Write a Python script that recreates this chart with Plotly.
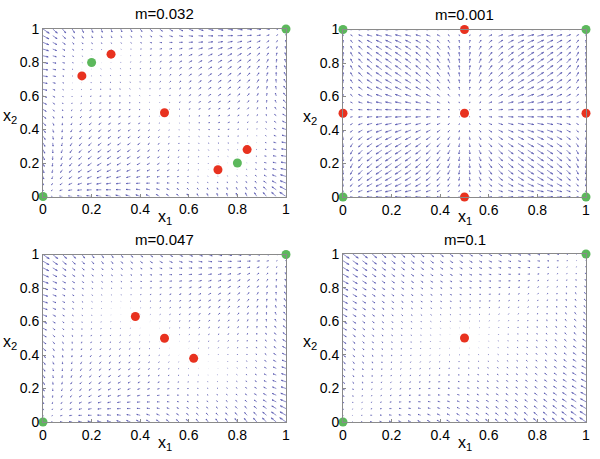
import numpy as np
import plotly.graph_objects as go

# ---- data ----
panel_titles = ["m=0.032", "m=0.001", "m=0.047", "m=0.1"]
m_values = [0.032, 0.001, 0.047, 0.1]

# stable (green) fixed points per panel
green_x1 = [[0.0, 1.0, 0.2, 0.8], [0.0, 0.0, 1.0, 1.0], [0.0, 1.0], [0.0, 1.0]]
green_x2 = [[0.0, 1.0, 0.8, 0.2], [0.0, 1.0, 0.0, 1.0], [0.0, 1.0], [0.0, 1.0]]
# unstable (red) fixed points per panel
red_x1 = [[0.5, 0.16, 0.28, 0.72, 0.84], [0.5, 0.5, 0.5, 0.0, 1.0], [0.5, 0.38, 0.62], [0.5]]
red_x2 = [[0.5, 0.72, 0.85, 0.16, 0.28], [0.5, 0.0, 1.0, 0.5, 0.5], [0.5, 0.63, 0.38], [0.5]]

tick_vals = [0, 0.2, 0.4, 0.6, 0.8, 1]
tick_text = ["0", "0.2", "0.4", "0.6", "0.8", "1"]
grid_vals = np.arange(0, 1.0001, 0.04)
migration_weight = 5.0  # dynamics: x(1-x)(2x-1) + 5 m (x_other - x)

# ---- layout geometry (pixels in a 600x459 page) ----
W, H = 600, 459
px_x = [(43, 286), (343, 586), (43, 286), (343, 586)]
px_y = [(29, 196.5), (29.5, 197), (254.5, 422), (254, 422)]

ARROW_COLOR = "rgba(75,75,170,0.85)"
RED = "#e8321f"
GREEN = "#5cb85c"

fig = go.Figure()

def field(X1, X2, m):
    u = X1 * (1 - X1) * (2 * X1 - 1) + migration_weight * m * (X2 - X1)
    v = X2 * (1 - X2) * (2 * X2 - 1) + migration_weight * m * (X1 - X2)
    return u, v

for i in range(4):
    ax = "" if i == 0 else str(i + 1)
    X1, X2 = np.meshgrid(grid_vals, grid_vals)
    U, V = field(X1, X2, m_values[i])
    d = grid_vals[1] - grid_vals[0]
    ln = np.sqrt((U / d) ** 2 + (V / d) ** 2)
    s = 0.9 / ln.max()
    U = U * s
    V = V * s
    xs, ys = [], []
    alpha, beta = 0.33, 0.33
    for x, y, u, w in zip(X1.ravel(), X2.ravel(), U.ravel(), V.ravel()):
        xs += [x, x + u, None]
        ys += [y, y + w, None]
        tx, ty = x + u, y + w
        xs += [tx - alpha * (u + beta * w), tx, tx - alpha * (u - beta * w), None]
        ys += [ty - alpha * (w - beta * u), ty, ty - alpha * (w + beta * u), None]
    fig.add_trace(go.Scatter(x=xs, y=ys, mode="lines",
                             line=dict(color=ARROW_COLOR, width=0.75),
                             hoverinfo="skip", showlegend=False,
                             xaxis="x" + ax, yaxis="y" + ax))
    fig.add_trace(go.Scatter(x=red_x1[i], y=red_x2[i], mode="markers",
                             marker=dict(color=RED, size=9),
                             cliponaxis=False, showlegend=False,
                             xaxis="x" + ax, yaxis="y" + ax))
    fig.add_trace(go.Scatter(x=green_x1[i], y=green_x2[i], mode="markers",
                             marker=dict(color=GREEN, size=9),
                             cliponaxis=False, showlegend=False,
                             xaxis="x" + ax, yaxis="y" + ax))

layout = dict(width=W, height=H, margin=dict(l=0, r=0, t=0, b=0),
              paper_bgcolor="white", plot_bgcolor="white",
              font=dict(family="Liberation Sans, Arial, sans-serif", color="black"))
annotations = []
for i in range(4):
    ax = "" if i == 0 else str(i + 1)
    x0, x1 = px_x[i]
    yt, yb = px_y[i]
    xd = [x0 / W, x1 / W]
    yd = [1 - yb / H, 1 - yt / H]
    common = dict(range=[0, 1], showgrid=False, zeroline=False, showline=True,
                  mirror=True, linecolor="#8a8a8a", linewidth=1,
                  ticks="inside", ticklen=3, tickcolor="#8a8a8a",
                  tickvals=tick_vals, ticktext=tick_text, automargin=False,
                  tickfont=dict(size=14, color="black"), fixedrange=True)
    layout["xaxis" + ax] = dict(common, domain=xd, anchor="y" + ax)
    layout["yaxis" + ax] = dict(common, domain=yd, anchor="x" + ax)
    cx = (x0 + x1) / 2 / W
    annotations.append(dict(text=panel_titles[i], x=cx, y=1 - (yt - 15) / H,
                            xref="paper", yref="paper", showarrow=False,
                            font=dict(size=15), xanchor="center", yanchor="middle"))
    annotations.append(dict(text="x<sub>1</sub>", x=cx, y=1 - (yb + 21) / H,
                            xref="paper", yref="paper", showarrow=False,
                            font=dict(size=16), xanchor="center", yanchor="middle"))
    annotations.append(dict(text="x<sub>2</sub>", x=(x0 - 24) / W, y=1 - ((yt + yb) / 2 + 4) / H,
                            xref="paper", yref="paper", showarrow=False,
                            font=dict(size=16), xanchor="right", yanchor="middle"))
layout["annotations"] = annotations
fig.update_layout(**layout)
fig.write_html("out.html", config={"displayModeBar": False},
               post_script="document.body.style.margin='0';document.body.style.overflow='hidden';")
